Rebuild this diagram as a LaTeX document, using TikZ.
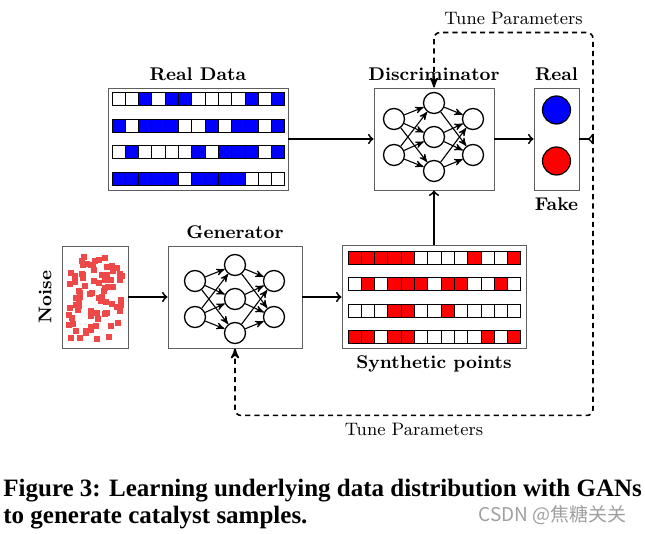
\documentclass[tikz,border=0pt]{standalone}
\usepackage{fontspec}
\newfontfamily\capfont{Liberation Serif}
\newfontfamily\cjkfont{Noto Sans CJK SC}
\usetikzlibrary{positioning,arrows}
\definecolor{noisered}{RGB}{238,72,72}
\definecolor{boxgray}{RGB}{95,95,95}

\begin{document}
\begin{tikzpicture}
    [ x=.5pt, y=-.5pt,
      >=stealth',
      box/.style={draw=boxgray, line width=.45pt, inner sep=0pt},
      lbl/.style={font=\bfseries\fontsize{9.2}{11}\selectfont},
      neuron/.style={draw, circle, fill=white, line width=.65pt,
                     minimum size=10.5pt, inner sep=0pt},
      dot/.style={draw, circle, line width=.6pt, minimum size=14pt, inner sep=0pt},
      flow/.style={-to, line width=.9pt},
      tune/.style={dash pattern=on 2.6pt off 2pt, line width=.8pt, rounded corners=3pt},
      tunelbl/.style={font=\fontsize{9}{11}\selectfont},
      bit/.style={draw, line width=.4pt},
    ]
    \useasboundingbox (0,0) rectangle (645,534);

    % boxes
    \node[box, minimum width=90pt, minimum height=51pt] (real) at (198,139) {};
    \node[box, minimum width=60pt, minimum height=51pt] (disc) at (434,139) {};
    \node[box, minimum width=22.5pt, minimum height=51pt] (rf) at (556.5,139) {};
    \node[box, minimum width=33pt, minimum height=51pt] (noise) at (95,297) {};
    \node[box, minimum width=67pt, minimum height=51pt] (gen) at (235,297) {};
    \node[box, minimum width=92pt, minimum height=51.5pt] (synth) at (434,297) {};

    \node[lbl, above=0pt of real] (realT) {Real Data};
    \node[lbl, above=0pt of disc] (discT) {Discriminator};
    \node[lbl, above=0pt of rf] (rfT) {Real};
    \node[lbl, below=0pt of rf] (rfB) {Fake};
    \node[lbl, above=0pt of gen] (genT) {Generator};
    \node[lbl, below=0pt of synth] (synthB) {Synthetic points};
    \node[lbl, rotate=90] (noiseT) at (45,297) {Noise};

    % real and synthetic samples
    \foreach \bits [count=\r] in {{0,0,1,0,1,1,0,0,0,0,1,0,1},
                                  {1,0,1,1,1,0,0,1,0,1,1,0,1},
                                  {0,1,0,0,0,0,1,0,1,1,1,0,1},
                                  {1,1,1,1,1,0,1,1,1,1,0,0,0}} {
        \foreach \b [count=\c] in \bits
            \draw[bit, fill=blue!\b00!white]
                ({112+(\c-1)*13.3}, {92.5+(\r-1)*26.7}) rectangle ++(13.3,13);
    }
    \foreach \bits [count=\r] in {{1,1,1,1,1,0,0,0,0,1,0,0,1},
                                  {0,1,0,1,1,1,0,1,1,0,0,1,0},
                                  {0,0,0,1,1,0,0,1,0,0,0,0,0},
                                  {1,1,0,1,1,0,0,0,0,0,1,0,1}} {
        \foreach \b [count=\c] in \bits
            \draw[bit, fill=red!\b00!white]
                ({348+(\c-1)*13.3}, {251.5+(\r-1)*26.4}) rectangle ++(13.3,13);
    }

    % noise
    \pgfmathsetseed{2024}
    \foreach \k in {1,...,80} {
        \pgfmathsetmacro\nx{67+rnd*55}
        \pgfmathsetmacro\ny{257+rnd*82}
        \fill[noisered] (\nx,\ny) ++(-3,-3) rectangle ++(6,6);
    }

    % networks
    \foreach \net/\cx/\cy in {g/235/299, d/434/137} {
        \begin{scope}[shift={(\cx,\cy)}]
            \foreach \i/\y in {1/-18,2/18}
                \node[neuron] (\net-i\i) at (-40,\y) {};
            \foreach \i/\y in {1/-34,2/0,3/34}
                \node[neuron] (\net-h\i) at (0,\y) {};
            \foreach \i/\y in {1/-18,2/18}
                \node[neuron] (\net-o\i) at (39,\y) {};
            \foreach \a in {1,2}
                \foreach \b in {1,2,3} {
                    \draw[->, line width=.55pt] (\net-i\a) -- (\net-h\b);
                    \draw[->, line width=.55pt] (\net-h\b) -- (\net-o\a);
                }
        \end{scope}
    }

    \node[dot, fill=blue] (realdot) at (556.5,110) {};
    \node[dot, fill=red] (fakedot) at (556.5,161) {};

    % data flow
    \draw[flow] (real) -- (disc);
    \draw[flow] (disc) -- (rf);
    \draw[flow] (noise) -- (gen);
    \draw[flow] (gen) -- (synth);
    \draw[flow] (synth) -- (disc);

    % feedback
    \coordinate (tap) at (593,139);
    \draw[-to reversed, line width=.8pt] (rf.east) -- (tap);
    \draw[tune,->] (tap) |- ([yshift=27.5pt]disc.north)
        node[tunelbl, above, pos=.75] {Tune Parameters} -- (disc.north);
    \draw[tune,->] (tap) |- ([yshift=-33.5pt]gen.south)
        node[tunelbl, below, pos=.75] {Tune Parameters} -- (gen.south);

    % caption
    \node[anchor=base west, inner sep=0pt,
          font=\capfont\bfseries\fontsize{12.5}{15}\selectfont] (cap1) at (3,497)
        {Figure 3: Learning underlying data distribution with GANs};
    \node[anchor=base west, inner sep=0pt,
          font=\capfont\bfseries\fontsize{12.5}{15}\selectfont] (cap2) at (3,524)
        {to generate catalyst samples.};
    \node[anchor=base west, inner sep=0pt, text=gray!75,
          font=\cjkfont\fontsize{9.5}{11}\selectfont] (mark) at (478,522)
        {CSDN @焦糖关关};
\end{tikzpicture}
\end{document}
